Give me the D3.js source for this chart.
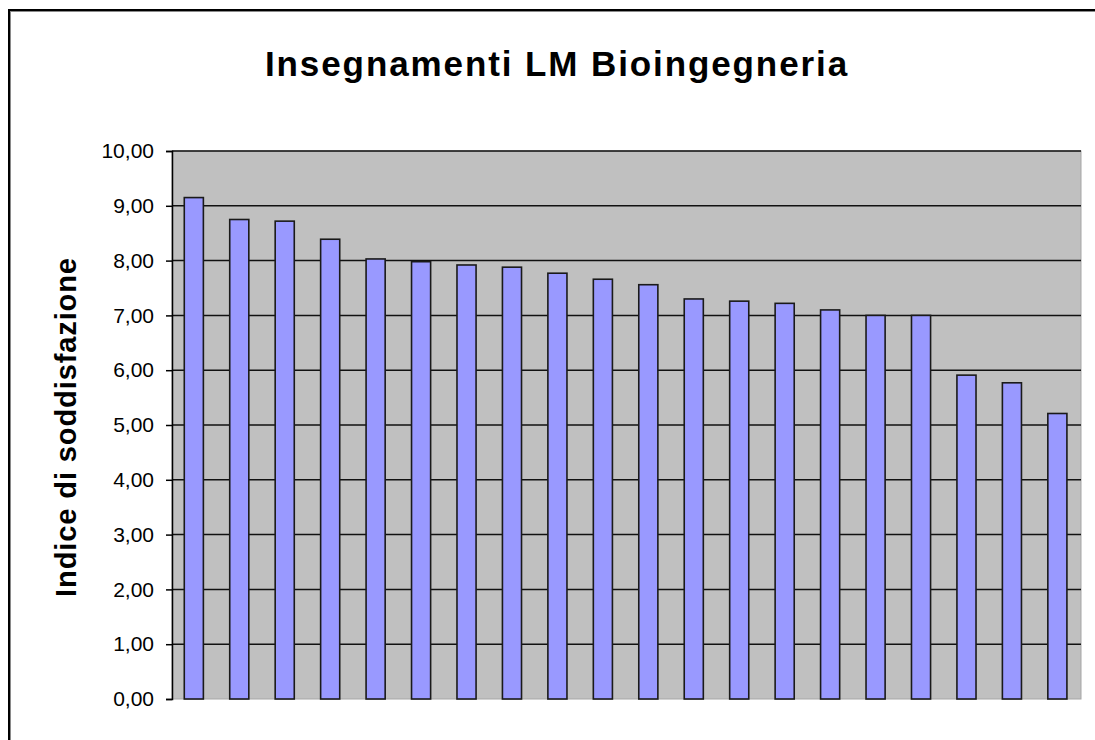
<!DOCTYPE html>
<html>
<head>
<meta charset="utf-8">
<script src="https://cdn.jsdelivr.net/npm/d3@7/dist/d3.min.js"></script>
<style>
  html, body { margin: 0; padding: 0; background: #fff; }
  svg { display: block; }
</style>
</head>
<body>
<svg id="chart" width="1095" height="740"></svg>
<script>
const titleText = "Insegnamenti LM Bioingegneria";
const yAxisLabel = "Indice di soddisfazione";
const categories = ["1","2","3","4","5","6","7","8","9","10","11","12","13","14","15","16","17","18","19","20"];
const values = [9.15, 8.75, 8.72, 8.39, 8.03, 7.98, 7.92, 7.88, 7.77, 7.66, 7.56, 7.30, 7.26, 7.22, 7.10, 7.00, 7.00, 5.91, 5.77, 5.21];
const yTicks = [0,1,2,3,4,5,6,7,8,9,10];

const svg = d3.select("#chart");
const W = 1095, H = 740;
const plot = { left: 172, right: 1081, top: 151, bottom: 699 };

// outer border (extends beyond the visible window on right/bottom)
svg.append("rect").attr("x", 9).attr("y", 10).attr("width", W + 20).attr("height", H + 20)
  .attr("fill", "#fff").attr("stroke", "#000").attr("stroke-width", 2);
svg.append("rect").attr("x", 10.5).attr("y", 11.5).attr("width", W + 20).attr("height", H + 20)
  .attr("fill", "none").attr("stroke", "#8a8a8a").attr("stroke-width", 1);

const x = d3.scaleBand().domain(categories).range([plot.left, plot.right]).padding(0);
const y = d3.scaleLinear().domain([0, 10]).range([plot.bottom, plot.top]);

// plot area
svg.append("rect").attr("x", plot.left).attr("y", plot.top)
  .attr("width", plot.right - plot.left).attr("height", plot.bottom - plot.top)
  .attr("fill", "#c0c0c0").attr("stroke", "#a6a6a6").attr("stroke-width", 1);

// gridlines
svg.append("g").selectAll("line").data(yTicks.filter(d => d > 0)).join("line")
  .attr("x1", plot.left).attr("x2", plot.right)
  .attr("y1", d => y(d)).attr("y2", d => y(d))
  .attr("stroke", "#111").attr("stroke-width", 1.5);

// bars
const barW = x.bandwidth() * 0.42;
svg.append("g").selectAll("rect").data(values).join("rect")
  .attr("x", (d, i) => x(categories[i]) + x.bandwidth() / 2 - barW / 2 - 0.9)
  .attr("y", d => y(d))
  .attr("width", barW)
  .attr("height", d => y(0) - y(d))
  .attr("fill", "#9999ff")
  .attr("stroke", "#1a1a1a")
  .attr("stroke-width", 1.6);

// y axis
const fmt = d => d.toFixed(2).replace(".", ",");
const yAxis = d3.axisLeft(y).tickValues(yTicks).tickFormat(fmt).tickSize(6).tickPadding(12);
const gy = svg.append("g").attr("transform", `translate(${plot.left},0)`).call(yAxis);
gy.select(".domain").attr("stroke", "#000").attr("stroke-width", 1.5);
gy.selectAll(".tick line").attr("stroke", "#000").attr("stroke-width", 1.5);
gy.selectAll(".tick text").attr("fill", "#000")
  .style("font-family", "Arial, 'Liberation Sans', sans-serif").style("font-size", "21px");

// title
svg.append("text").attr("x", 557).attr("y", 76).attr("text-anchor", "middle")
  .style("font-family", "Arial, 'Liberation Sans', sans-serif").style("font-size", "35px")
  .style("font-weight", "bold").style("letter-spacing", "1.9px")
  .text(titleText);

// y axis label
svg.append("text").attr("transform", "translate(76,427) rotate(-90)").attr("text-anchor", "middle")
  .style("font-family", "Arial, 'Liberation Sans', sans-serif").style("font-size", "29px")
  .style("font-weight", "bold").style("letter-spacing", "0.9px")
  .text(yAxisLabel);
</script>
</body>
</html>
